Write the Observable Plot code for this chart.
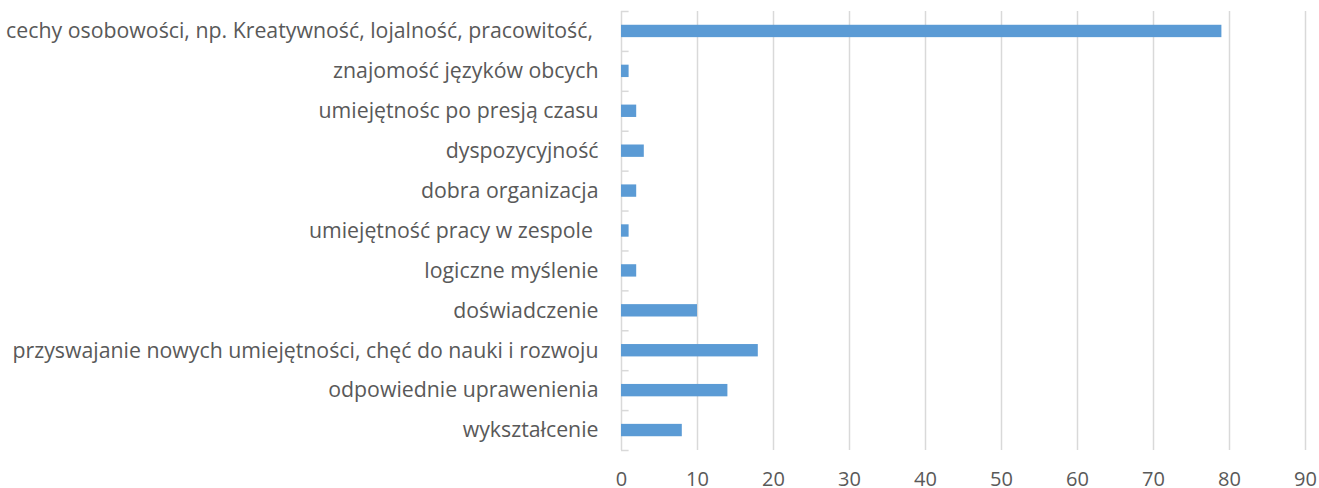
<!DOCTYPE html>
<html>
<head>
<meta charset="utf-8">
<script src="https://cdn.jsdelivr.net/npm/d3@7"></script>
<script src="https://cdn.jsdelivr.net/npm/@observablehq/plot@0.6"></script>
<style>
  html, body { margin: 0; padding: 0; background: #fff; }
</style>
</head>
<body>
<div id="chart"></div>
<script>
const categories = [
  "cechy osobowości, np. Kreatywność, lojalność, pracowitość,\u00A0",
  "znajomość języków obcych",
  "umiejętnośc po presją czasu",
  "dyspozycyjność",
  "dobra organizacja",
  "umiejętność pracy w zespole\u00A0",
  "logiczne myślenie",
  "doświadczenie",
  "przyswajanie nowych umiejętności, chęć do nauki i rozwoju",
  "odpowiednie uprawenienia",
  "wykształcenie"
];
const values = [79, 1, 2, 3, 2, 1, 2, 10, 18, 14, 8];
const xTicks = [0, 10, 20, 30, 40, 50, 60, 70, 80, 90];

const data = categories.map((c, i) => ({category: c, value: values[i]}));

const W = 1319, H = 488, mT = 11, mB = 38;
const step = (H - mT - mB) / categories.length;

const chart = Plot.plot({
  width: W,
  height: H,
  marginLeft: 621,
  marginRight: 14,
  marginTop: mT,
  marginBottom: mB,
  style: {fontFamily: "'Open Sans', sans-serif", fontSize: "16px", color: "#595959", background: "#fff", overflow: "visible"},
  x: {domain: [0, 90], ticks: xTicks, label: null},
  y: {domain: categories, paddingInner: 0.69, paddingOuter: 0.345, round: false, label: null},
  marks: [
    Plot.gridX(xTicks.slice(1), {stroke: "#d9d9d9", strokeOpacity: 1, strokeWidth: 1.5}),
    Plot.ruleX([0], {stroke: "#d9d9d9", strokeWidth: 1.5}),
    Plot.ruleY(categories, {y: d => d, x1: 0, x2: 1, dy: -step / 2, stroke: "#d9d9d9", strokeWidth: 1.5}),
    Plot.ruleY(categories.slice(-1), {y: d => d, x1: 0, x2: 1, dy: step / 2, stroke: "#d9d9d9", strokeWidth: 1.5}),
    Plot.barX(data, {x: "value", y: "category", fill: "#5b9bd5"}),
    Plot.axisX({ticks: xTicks, tickSize: 0, tickPadding: 21, fontSize: 20, fill: "#595959", label: null}),
    Plot.axisY({tickSize: 0, tickPadding: 23, fontSize: 21.3, fill: "#595959", label: null})
  ]
});

document.getElementById("chart").appendChild(chart);
</script>
</body>
</html>
